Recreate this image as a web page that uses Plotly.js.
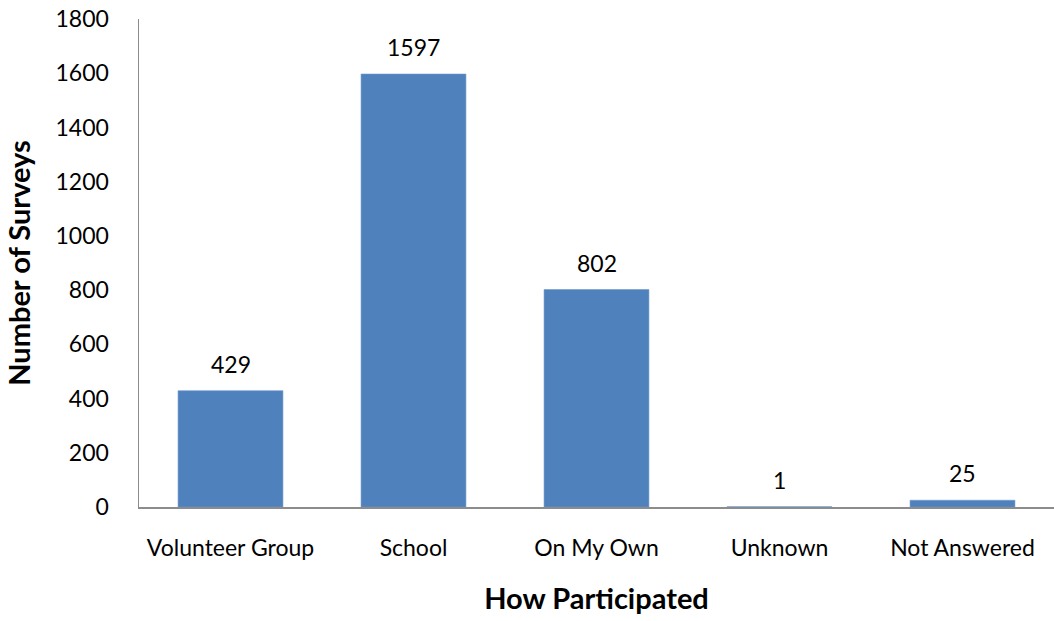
<!DOCTYPE html>
<html>
<head>
<meta charset="utf-8">
<script src="https://cdn.plot.ly/plotly-3.0.1.min.js"></script>
<style>
  html, body { margin: 0; padding: 0; background: #ffffff; }
  #chart { width: 1054px; height: 621px; }
</style>
</head>
<body>
<div id="chart"></div>
<script>
// Survey counts by how the respondent participated
const categories = ["Volunteer Group", "School", "On My Own", "Unknown", "Not Answered"];
const surveyCounts = [429, 1597, 802, 1, 25];
const yTickValues = [0, 200, 400, 600, 800, 1000, 1200, 1400, 1600, 1800];

const FONT = "Lato, 'Open Sans', sans-serif";

const bars = {
  type: "bar",
  x: categories,
  y: surveyCounts,
  width: 0.573,
  marker: { color: "#4F81BD", line: { color: "#6C97CB", width: 0.6 } },
  hoverinfo: "x+y",
  cliponaxis: false
};

// Value labels sit just above each bar
const valueLabels = categories.map((c, i) => ({
  x: c,
  y: surveyCounts[i],
  xref: "x",
  yref: "y",
  text: String(surveyCounts[i]),
  showarrow: false,
  yanchor: "bottom",
  yshift: 11,
  font: { family: FONT, size: 23, color: "#000000" }
}));

const layout = {
  width: 1054,
  height: 621,
  margin: { l: 139, r: 0, t: 19, b: 114, pad: 0 },
  paper_bgcolor: "#ffffff",
  plot_bgcolor: "#ffffff",
  showlegend: false,
  bargap: 0.427,
  font: { family: FONT, size: 23, color: "#000000" },
  xaxis: {
    type: "category",
    showline: true,
    linecolor: "#8c8c8c",
    linewidth: 1.5,
    ticks: "",
    showgrid: false,
    zeroline: false,
    ticklabelstandoff: 20,
    tickfont: { family: FONT, size: 23, color: "#000000" },
    title: {
      text: "How Participated",
      font: { family: FONT, size: 29, color: "#000000", weight: "bold" },
      standoff: 28
    },
    automargin: false
  },
  yaxis: {
    range: [0, 1800],
    tickvals: yTickValues,
    ticktext: yTickValues.map(String),
    showline: true,
    linecolor: "#8c8c8c",
    linewidth: 1.5,
    ticks: "",
    showgrid: false,
    zeroline: false,
    ticklabelstandoff: 24,
    tickfont: { family: FONT, size: 23, color: "#000000" },
    title: {
      text: "Number of Surveys",
      font: { family: FONT, size: 29, color: "#000000", weight: "bold" },
      standoff: 16
    },
    automargin: false
  },
  annotations: valueLabels
};

Plotly.newPlot("chart", [bars], layout, { displayModeBar: false, staticPlot: true });
</script>
</body>
</html>
